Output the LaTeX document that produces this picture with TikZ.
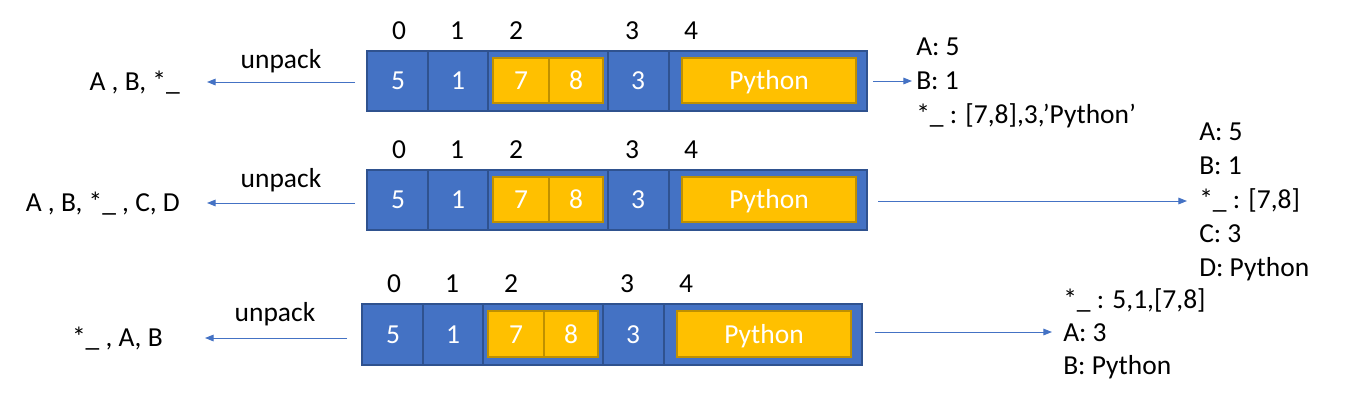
\documentclass[tikz,border=0pt]{standalone}
\usepackage{fontspec}
\setmainfont{Carlito}
\usetikzlibrary{arrows.meta}
\definecolor{cblue}{HTML}{4472C4}
\definecolor{cblueD}{HTML}{2F528F}
\definecolor{cyel}{HTML}{FFC000}
\definecolor{cyelD}{HTML}{BF9000}
\newcommand\drawlistrow[4]{% #1 left, #2 top, #3 bottom, #4 name prefix
  \path[bar] (#1,#2) rectangle ({#1+500},#3);
  \draw[sep] ({#1+61},#2) -- ({#1+61},#3);
  \draw[sep] ({#1+121},#2) -- ({#1+121},#3);
  \draw[sep] ({#1+241},#2) -- ({#1+241},#3);
  \draw[sep] ({#1+302},#2) -- ({#1+302},#3);
  \path[ybox] ({#1+126},{#2+7}) rectangle ({#1+236},{#3-8});
  \draw[ysep] ({#1+182},{#2+7}) -- ({#1+182},{#3-8});
  \path[ybox] ({#1+315},{#2+7}) rectangle ({#1+489},{#3-8});
  \node[celltxt] (#4v0) at ({#1+31},{(#2+#3)/2}) {5};
  \node[celltxt] (#4v1) at ({#1+91},{(#2+#3)/2}) {1};
  \node[celltxt] (#4v2) at ({#1+154},{(#2+#3)/2}) {7};
  \node[celltxt] (#4v3) at ({#1+209},{(#2+#3)/2}) {8};
  \node[celltxt] (#4v4) at ({#1+271},{(#2+#3)/2}) {3};
  \node[celltxt] (#4v5) at ({#1+402},{(#2+#3)/2}) {Python};
  \node[txt] (#4i0) at ({#1+32},{#2-20}) {0};
  \node[txt] (#4i1) at ({#1+90},{#2-20}) {1};
  \node[txt] (#4i2) at ({#1+149},{#2-20}) {2};
  \node[txt] (#4i3) at ({#1+265},{#2-20}) {3};
  \node[txt] (#4i4) at ({#1+324},{#2-20}) {4};
}
\begin{document}
\begin{tikzpicture}[x=0.75pt,y=-0.75pt,
  txt/.style={font=\fontsize{20.6}{24}\selectfont, inner sep=0pt, text height=13.3pt, text depth=0pt},
  celltxt/.style={txt, text=white},
  bar/.style={draw=cblueD, fill=cblue, line width=1.1pt},
  sep/.style={draw=cblueD, line width=1.1pt},
  ybox/.style={draw=cyelD, fill=cyel, line width=1.1pt},
  ysep/.style={draw=cyelD, line width=1.1pt},
  arr/.style={draw=cblue, line width=0.75pt, -{Triangle[length=6.5pt,width=5pt]}},
]
\useasboundingbox (0,0) rectangle (1368,415);

% ---- row 1
\drawlistrow{367}{51}{111}{a}
\node[txt, anchor=east] (aleft) at (180,82) {A , B, *\_};
\node[txt] (aunp) at (281,60) {unpack};
\coordinate (aS) at (355,82);
\coordinate (aE) at (207,82);
\draw[arr] (aS) -- (aE);
\coordinate (aRS) at (873,81);
\coordinate (aRE) at (912,81);
\draw[arr] (aRS) -- (aRE);
\node[txt, anchor=west] (ar1) at (916,47) {A: 5};
\node[txt, anchor=west] (ar2) at (916,81) {B: 1};
\node[txt, anchor=west] (ar3) at (916,115) {*\_ : [7,8],3,’Python’};

% ---- row 2
\drawlistrow{367}{170}{230}{b}
\node[txt, anchor=east] (bleft) at (180,203) {A , B, *\_ , C, D};
\node[txt] (bunp) at (281,179) {unpack};
\coordinate (bS) at (355,203);
\coordinate (bE) at (207,203);
\draw[arr] (bS) -- (bE);
\coordinate (bRS) at (878,201);
\coordinate (bRE) at (1187,201);
\draw[arr] (bRS) -- (bRE);
\node[txt, anchor=west] (br1) at (1199,132) {A: 5};
\node[txt, anchor=west] (br2) at (1199,166) {B: 1};
\node[txt, anchor=west] (br3) at (1199,200) {*\_ : [7,8]};
\node[txt, anchor=west] (br4) at (1199,234) {C: 3};
\node[txt, anchor=west] (br5) at (1199,268) {D: Python};

% ---- row 3
\drawlistrow{362}{304}{365}{c}
\node[txt, anchor=east] (cleft) at (163,338) {*\_ , A, B};
\node[txt] (cunp) at (275,313) {unpack};
\coordinate (cS) at (347,338);
\coordinate (cE) at (205,338);
\draw[arr] (cS) -- (cE);
\coordinate (cRS) at (875,332);
\coordinate (cRE) at (1052,332);
\draw[arr] (cRS) -- (cRE);
\node[txt, anchor=west] (cr1) at (1063,300) {*\_ : 5,1,[7,8]};
\node[txt, anchor=west] (cr2) at (1063,333) {A: 3};
\node[txt, anchor=west] (cr3) at (1063,366) {B: Python};
\end{tikzpicture}
\end{document}
